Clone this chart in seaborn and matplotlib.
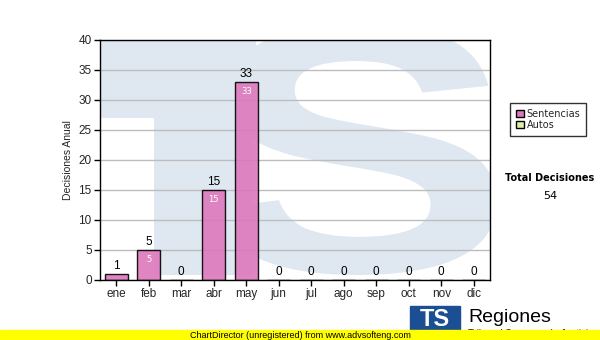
import matplotlib
matplotlib.use("Agg")
import matplotlib.pyplot as plt
import matplotlib.patches as mpatches
from matplotlib.textpath import TextPath
from matplotlib.font_manager import FontProperties
from matplotlib.transforms import Affine2D
import seaborn as sns
import pandas as pd

months = ["ene", "feb", "mar", "abr", "may", "jun", "jul", "ago", "sep", "oct", "nov", "dic"]
sentencias = [1, 5, 0, 15, 33, 0, 0, 0, 0, 0, 0, 0]
autos = [0, 0, 0, 0, 0, 0, 0, 0, 0, 0, 0, 0]
total = 54
yticks = [0, 5, 10, 15, 20, 25, 30, 35, 40]

sns.set_theme(style="white")
plt.rcParams['font.family'] = ['Liberation Sans', 'DejaVu Sans']

df = pd.DataFrame({"mes": months, "Sentencias": sentencias})

fig = plt.figure(figsize=(6, 3.4), dpi=100)
ax = fig.add_axes([100/600, 1-280/340, 390/600, 240/340])

# watermark (background decoration)
wm = "#dfe8f1"
ax.add_patch(mpatches.Rectangle((0.0, 1 - 78/240), 0.4, 78/240, transform=ax.transAxes,
                                color=wm, zorder=0, lw=0))
ax.add_patch(mpatches.Rectangle((54/390, 5/240), 0.25, 1 - 5/240, transform=ax.transAxes,
                                color=wm, zorder=0, lw=0))
tp = TextPath((0, 0), "S", size=1, prop=FontProperties(family="Liberation Sans", weight="bold"))
ext = tp.get_extents()
x0, x1 = (213 - 100) / 390, (497 - 100) / 390
y0, y1 = (280 - 275) / 240, (280 - 25) / 240
tr = (Affine2D().translate(-ext.x0, -ext.y0)
      .scale((x1 - x0) / ext.width, (y1 - y0) / ext.height)
      .translate(x0, y0))
spatch = mpatches.PathPatch(tr.transform_path(tp), transform=ax.transAxes,
                            facecolor=wm, edgecolor="none", zorder=0, clip_on=True)
ax.add_patch(spatch)

sns.barplot(data=df, x="mes", y="Sentencias", ax=ax, color="#dd78bc", alpha=0.9,
            edgecolor="black", linewidth=1, width=0.72, zorder=3, saturation=1)

ax.set_ylim(0, 40)
ax.set_xlim(-0.5, 11.5)
ax.set_yticks(yticks)
ax.yaxis.grid(True, color="#bdbdbd", linewidth=1, zorder=1)
ax.set_axisbelow(False)
for s in ax.spines.values():
    s.set_color("black")
    s.set_linewidth(1)
    s.set_zorder(5)
ax.tick_params(axis="both", which="both", length=4, width=1, color="black",
               labelsize=8.5, direction="out", pad=2, bottom=True, left=True)
ax.set_xlabel("")
ax.set_ylabel("Decisiones Anual", fontsize=7.5, labelpad=4)

for i, v in enumerate(sentencias):
    ax.text(i, v + 0.3, str(v), ha="center", va="bottom", fontsize=8.5, color="black", zorder=6)
    if v > 3:
        ax.text(i, v - 0.9, str(v), ha="center", va="top", fontsize=6,
                color="white", zorder=6, family="DejaVu Sans")

# legend
handles = [mpatches.Patch(facecolor="#dd78bc", edgecolor="black", label="Sentencias"),
           mpatches.Patch(facecolor="#dcefa8", edgecolor="black", label="Autos")]
leg = fig.legend(handles=handles, loc="upper left", bbox_to_anchor=(510/600, 1-103/340),
                 prop=FontProperties(family="DejaVu Sans", size=7),
                 frameon=True, fancybox=False, edgecolor="black",
                 handlelength=0.8, handleheight=0.8, handletextpad=0.3,
                 borderpad=0.6, labelspacing=0.1, borderaxespad=0)
leg.get_frame().set_linewidth(1)

fig.text(550/600, 1-178/340, "Total Decisiones", ha="center", va="center",
         fontsize=7, fontweight="bold", color="black", family="DejaVu Sans")
fig.text(550/600, 1-196/340, str(total), ha="center", va="center", fontsize=8,
         color="black", family="DejaVu Sans")

# footer logo
fig.patches.append(mpatches.Rectangle((410/600, 1-335/340), 50/600, 29/340,
                                      transform=fig.transFigure, color="#1b4e93", zorder=1))
fig.text(435/600, 1-320/340, "TS", ha="center", va="center", fontsize=17,
         fontweight="bold", color="white", zorder=2)
fig.text(468/600, 1-317/340, "Regiones", ha="left", va="center", fontsize=14, color="black", zorder=2)
fig.text(468/600, 1-334/340, "Tribunal Supremo de Justicia", ha="left", va="center",
         fontsize=7, color="black", zorder=2)
fig.patches.append(mpatches.Rectangle((0, 0), 1, 10/340, transform=fig.transFigure,
                                      color="#ffff00", zorder=3))
fig.text(300/600, 1-335/340, "ChartDirector (unregistered) from www.advsofteng.com",
         ha="center", va="center", fontsize=6.5, color="black", zorder=4)

fig.savefig("out.png", dpi=100)
